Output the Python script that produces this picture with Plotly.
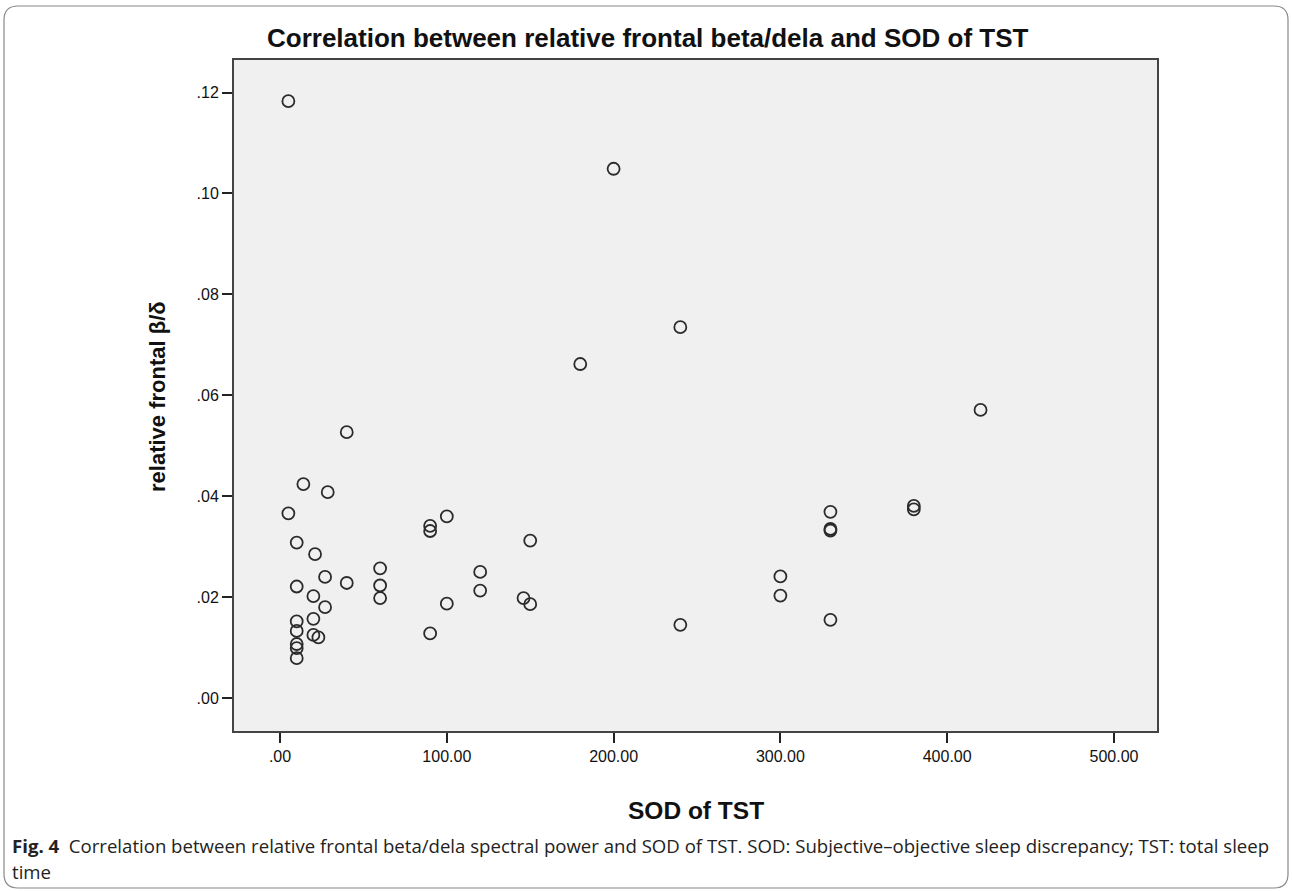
import plotly.graph_objects as go

# Data
sod_tst = [5, 200, 240, 180, 420, 40, 14, 28.6, 5, 10, 21, 27, 40, 10, 20, 27, 20, 10, 10, 20,
           23, 10, 10, 10, 60, 60, 60, 90, 90, 100, 100, 90, 120, 120, 150, 146, 150, 240,
           300, 300, 330, 330, 330, 380, 380, 330]
beta_delta = [0.1183, 0.1049, 0.0735, 0.0662, 0.0571, 0.0527, 0.0424, 0.0408, 0.0366, 0.0308,
              0.0285, 0.0240, 0.0228, 0.0221, 0.0202, 0.0180, 0.0157, 0.0152, 0.0133, 0.0125,
              0.0120, 0.0107, 0.0099, 0.0079, 0.0257, 0.0223, 0.0198, 0.0341, 0.0331, 0.0360,
              0.0187, 0.0128, 0.0250, 0.0213, 0.0312, 0.0198, 0.0186, 0.0145, 0.0241, 0.0203,
              0.0369, 0.0335, 0.0332, 0.0381, 0.0374, 0.0155]

x_tickvals = [0, 100, 200, 300, 400, 500]
x_ticktext = [".00", "100.00", "200.00", "300.00", "400.00", "500.00"]
y_tickvals = [0, 0.02, 0.04, 0.06, 0.08, 0.10, 0.12]
y_ticktext = [".00", ".02", ".04", ".06", ".08", ".10", ".12"]

W, H = 1292, 891
L, R, T, B = 234, 1157, 60, 731  # plot area in pixels

def px(x):
    return (x - L) / (R - L)

def py(y):
    return (B - y) / (B - T)

fig = go.Figure()
fig.add_trace(go.Scatter(
    x=sod_tst, y=beta_delta, mode="markers",
    marker=dict(symbol="circle-open", size=12, color="#2b2b2b", line=dict(width=1.8)),
    showlegend=False, hoverinfo="x+y",
))

axis_common = dict(
    showgrid=False, zeroline=False, showline=True, mirror=True,
    linecolor="#444444", linewidth=2,
    ticks="outside", ticklen=10, tickwidth=2, tickcolor="#222222",
    tickfont=dict(family="Liberation Sans", size=16, color="#111111"),
)

fig.update_xaxes(range=[-27.6, 525.8], tickmode="array", tickvals=x_tickvals,
                 ticktext=x_ticktext, **axis_common)
fig.update_yaxes(range=[-0.00654, 0.12646], tickmode="array", tickvals=y_tickvals,
                 ticktext=y_ticktext, **axis_common)

# Rounded outer frame
x0, x1, y0, y1, r = 4, 1288, 6, 888, 14
path = (f"M {px(x0 + r)},{py(y0)} L {px(x1 - r)},{py(y0)} "
        f"Q {px(x1)},{py(y0)} {px(x1)},{py(y0 + r)} "
        f"L {px(x1)},{py(y1 - r)} Q {px(x1)},{py(y1)} {px(x1 - r)},{py(y1)} "
        f"L {px(x0 + r)},{py(y1)} Q {px(x0)},{py(y1)} {px(x0)},{py(y1 - r)} "
        f"L {px(x0)},{py(y0 + r)} Q {px(x0)},{py(y0)} {px(x0 + r)},{py(y0)} Z")
fig.add_shape(type="path", path=path, xref="paper", yref="paper",
              line=dict(color="#888888", width=1.2), layer="below")

# Chart title
fig.add_annotation(text="<b>Correlation between relative frontal beta/dela and SOD of TST</b>",
                   x=px(647), y=py(38), xref="paper", yref="paper", showarrow=False,
                   xanchor="center", yanchor="middle",
                   font=dict(family="Liberation Sans", size=26, color="#111111"))
# Axis titles
fig.add_annotation(text="<b>SOD of TST</b>", x=px(696), y=py(810), xref="paper", yref="paper",
                   showarrow=False, xanchor="center", yanchor="middle",
                   font=dict(family="Liberation Sans", size=24.5, color="#111111"))
fig.add_annotation(text="<b>relative frontal β/δ</b>", x=px(157), y=py(397), xref="paper",
                   yref="paper", showarrow=False, xanchor="center", yanchor="middle",
                   textangle=-90,
                   font=dict(family="Liberation Sans", size=22, color="#111111"))
# Caption
fig.add_annotation(text="<b>Fig. 4</b>  Correlation between relative frontal beta/dela spectral power "
                        "and SOD of TST. SOD: Subjective–objective sleep discrepancy; TST: total sleep",
                   x=px(10), y=py(845), xref="paper", yref="paper", showarrow=False,
                   xanchor="left", yanchor="middle",
                   font=dict(family="Open Sans", size=18.6, color="#222222"))
fig.add_annotation(text="time", x=px(10), y=py(871), xref="paper", yref="paper",
                   showarrow=False, xanchor="left", yanchor="middle",
                   font=dict(family="Open Sans", size=18.6, color="#222222"))

fig.update_layout(
    width=W, height=H,
    margin=dict(l=L, r=W - R, t=T, b=H - B),
    paper_bgcolor="white", plot_bgcolor="#f0f0f0",
)

fig.write_html("out.html")
